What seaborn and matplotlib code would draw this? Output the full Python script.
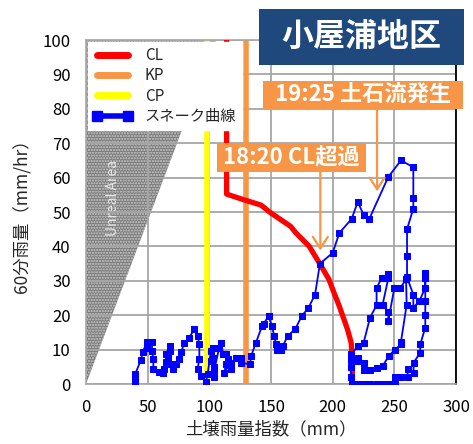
import matplotlib
matplotlib.use("Agg")
import matplotlib.pyplot as plt
from matplotlib.lines import Line2D
from matplotlib.patches import Polygon, Rectangle
import seaborn as sns
import pandas as pd

# snake curve (soil water index, 60-min rainfall) in time order
snake_x = [40, 40, 40, 40, 44.6, 45.9, 49.2, 49.2, 53.5, 53.5, 54.6, 54.6, 59.4, 62.1,
           63.5, 64.9, 64.9, 68.1, 68.1, 66.2, 68.9, 70.3, 73, 75.7, 77, 79.7, 83.8,
           87.8, 90.5, 91.9, 91.9, 90.5, 93.2, 97.3, 98.6, 101.4, 101.4, 102.7, 102.7,
           104, 104, 104, 108, 109.5, 111.3, 113.5, 114.8, 113.5, 112.1, 117.6, 117.6,
           121.6, 125.7, 125.7, 133, 133.8, 137.8, 142.7, 144, 148, 150.8, 152.7, 154,
           155, 158, 159.4, 163.5, 169.7, 175.1, 180.2, 185.7, 189.7, 200, 205.4, 215.4,
           220.3, 225.1, 229.7, 245.1, 255.4, 265.4, 265.4, 265.4, 260.3, 260.3, 260.3,
           265.4, 265.4, 270.3, 275.1, 275.1, 275.1, 275.1, 275.1, 275.1, 271, 271,
           265.6, 265.6, 260.7, 260.7, 255.4, 250.5, 250.5, 246, 240.5, 235.6, 230.5,
           225.6, 220.3, 215.4, 215, 215, 215, 220.3, 225.1, 230.3, 235.6, 235.6, 239.7,
           245.1, 245.1, 240.5, 245.1, 245.1, 250, 254.9, 259.5, 260, 255.4, 255.4,
           250.5, 245.4, 240.5, 235.6, 230.3, 225.6, 225.1, 220.3, 220.3, 215]
snake_y = [0, 1, 2, 3, 7, 9.2, 12.1, 10.6, 12.1, 9.7, 7.3, 4.4, 3.4, 3.1,
           4.4, 6.3, 8.7, 11.1, 9.7, 7.7, 5.8, 4.4, 5.8, 7.3, 9.2, 11.8, 13.5,
           16, 14, 11.6, 7.3, 4.4, 2.4, 0.5, 2.9, 9.7, 6.8, 10.6, 7.7,
           4.8, 1.9, 4, 10.6, 12, 8.6, 8.6, 7.2, 5.7, 3.3, 6.2, 4.3,
           7.7, 7.7, 6.2, 5.7, 8.1, 12, 16.8, 17.5, 19.7, 16.8, 13.9, 11.5,
           10, 10, 11, 13.9, 16, 19.9, 22, 26, 35, 38.1, 43.9, 48,
           52.9, 49.2, 48, 60.2, 65, 63, 54, 51, 45, 37.1, 31,
           26, 22.2, 24.1, 28, 32.3, 30.9, 24.1, 20, 16.4, 11.5, 9.1,
           6.2, 3.3, 4.3, 2, 2, 2, 0.4, 0, 0, 0, 0,
           0, 0, 0, 2, 5, 8.6, 11, 12, 19.3, 22.9, 28, 30.7,
           32, 30.7, 23.1, 21, 18.3, 28, 28, 30.4, 23.1, 12.3, 11.5,
           10, 8.1, 5.2, 4.7, 4, 4, 6.2, 6.7, 7.7, 7]

# critical line
cl_x = [114, 114, 127.6, 142, 148.8, 166, 170, 181, 189, 197, 201, 205.4, 212, 215, 216, 216]
cl_y = [100, 55.2, 53.6, 52, 50, 45.8, 44, 40, 35.3, 30.4, 26.6, 22.6, 15.9, 12, 7.2, 0]

kp_x = 129.5
cp_x = 98
unreal_x = [0, 0, 105]
unreal_y = [0, 100, 100]

arrow_1820 = (190, 61.7, 38.8)   # x, start y, tip y
arrow_1925 = (236, 80, 56)

RED = "#FF0000"
ORANGE = "#F79646"
YELLOW = "#FFFF00"
BLUE = "#0000FF"
NAVY = "#1F497D"

sns.set_theme(style="whitegrid")
plt.rcParams["font.family"] = ["Noto Sans CJK JP", "DejaVu Sans"]

W, H = 473, 444
fig = plt.figure(figsize=(W / 100, H / 100), dpi=100)
ax = fig.add_axes([86 / W, 1 - 384 / H, 370 / W, 344 / H])


def fig_rect(x0, y0, x1, y1, color):
    r = Rectangle((x0 / W, 1 - y1 / H), (x1 - x0) / W, (y1 - y0) / H,
                  transform=fig.transFigure, facecolor=color, edgecolor="none", zorder=10)
    fig.add_artist(r)


plt.rcParams["hatch.linewidth"] = 1.0
ax.add_patch(Polygon(list(zip(unreal_x, unreal_y)), closed=True, facecolor="#7a7a7a",
                     edgecolor="#cfcfcf", hatch="......", lw=0, zorder=0.2))
ax.text(22, 54, "Unreal Area", rotation=90, color="#e8e8e8", fontsize=10,
        ha="center", va="center", zorder=0.3)

ax.axvline(cp_x, color=YELLOW, lw=4, zorder=2)
ax.axvline(kp_x, color=ORANGE, lw=4, zorder=2)

cl = pd.DataFrame({"x": cl_x, "y": cl_y})
sns.lineplot(data=cl, x="x", y="y", sort=False, estimator=None, color=RED, lw=3.8, ax=ax, zorder=3)

snake = pd.DataFrame({"x": snake_x, "y": snake_y})
sns.lineplot(data=snake, x="x", y="y", sort=False, estimator=None, color=BLUE, lw=1.3,
             marker="s", markersize=4.5, markeredgecolor=BLUE, ax=ax, zorder=4)

for xa, ys, yt in [arrow_1820, arrow_1925]:
    ax.annotate("", xy=(xa, yt), xytext=(xa, ys),
                arrowprops=dict(arrowstyle="->,head_length=0.7,head_width=0.45",
                                color=ORANGE, lw=1.6, shrinkA=0, shrinkB=0), zorder=5)

ax.set_xlim(0, 300)
ax.set_ylim(0, 100)
ax.set_xticks(range(0, 301, 50))
ax.set_yticks(range(0, 101, 10))
ax.grid(True, color="#a6a6a6", lw=1.3)
ax.tick_params(axis="both", labelsize=12, length=5, color="#a6a6a6", width=1.2,
               colors="#000000")
ax.tick_params(axis="x", pad=6)
ax.tick_params(axis="y", pad=6)
ax.tick_params(axis="both", which="both", color="#a6a6a6")
for s in ["left", "bottom", "top"]:
    ax.spines[s].set_color("#a6a6a6")
    ax.spines[s].set_linewidth(1.2)
ax.spines["right"].set_color("black")
ax.spines["right"].set_linewidth(1.3)
ax.set_xlabel("土壌雨量指数（mm）", fontsize=12.5, labelpad=3)
ax.set_ylabel("60分雨量（mm/hr）", fontsize=12.5, labelpad=8)

handles = [Line2D([], [], color=RED, lw=5),
           Line2D([], [], color=ORANGE, lw=5),
           Line2D([], [], color=YELLOW, lw=5),
           Line2D([], [], color=BLUE, lw=4, marker="s", markersize=7)]
leg = ax.legend(handles, ["CL", "KP", "CP", "スネーク曲線"], loc="upper left",
                bbox_to_anchor=(0.0, 1.0), borderaxespad=0.1, fontsize=11,
                frameon=True, fancybox=False, framealpha=1, edgecolor="white",
                handlelength=2.6, numpoints=2, labelspacing=0.22, borderpad=0.35)
leg.set_zorder(6)

# title and annotation boxes
fig_rect(259, 9, 464, 65, NAVY)
fig.text(361.5 / W, 1 - 37 / H, "小屋浦地区", color="white", fontsize=23, fontweight="bold",
         ha="center", va="center", zorder=11)
fig_rect(263, 81, 463, 109, ORANGE)
fig.text(363 / W, 1 - 95 / H, "19:25 土石流発生", color="white", fontsize=16, fontweight="bold",
         ha="center", va="center", zorder=11)
fig_rect(217, 143, 366, 172, ORANGE)
fig.text(291.5 / W, 1 - 157.5 / H, "18:20 CL超過", color="white", fontsize=16, fontweight="bold",
         ha="center", va="center", zorder=11)

fig.savefig("out.png", dpi=100)
